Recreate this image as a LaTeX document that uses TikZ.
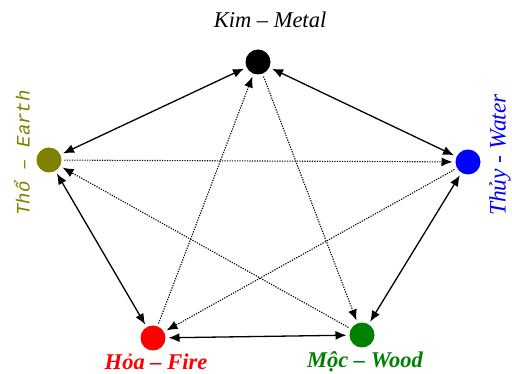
\documentclass[tikz,border=0pt]{standalone}
\usepackage{fontspec}
\setmainfont{Liberation Serif}
\newfontfamily\monofont{Liberation Mono}
\usepackage{xcolor}
\usetikzlibrary{arrows.meta}
\definecolor{earth}{RGB}{128,128,0}
\definecolor{wood}{RGB}{0,128,0}

\begin{document}
\begin{tikzpicture}[x=1pt, y=-1pt,
  elem/.style={circle, inner sep=0pt, minimum size=25pt, outer sep=3pt},
  both/.style={{Latex[length=11pt,width=9pt]}-{Latex[length=11pt,width=9pt]}, line width=1.3pt},
  ctrl/.style={-{Latex[length=11pt,width=9pt]}, dash pattern=on 1.2pt off 1.3pt, line width=1.1pt},
  lbl/.style={inner sep=0pt, font=\fontsize{22.5}{26}\selectfont\itshape}]
\useasboundingbox (0,0) rectangle (512,374);
\node[elem, fill=black] (kim) at (258,62) {};
\node[elem, fill=earth] (tho) at (49,160) {};
\node[elem, fill=blue] (thuy) at (468,162) {};
\node[elem, fill=red] (hoa) at (153,338) {};
\node[elem, fill=wood] (moc) at (362,335) {};

\node[lbl] (kimlabel) at (270,20) {Kim – Metal};
\node[lbl, text=earth, rotate=90, font=\fontsize{19}{22}\selectfont\monofont\itshape] (tholabel) at (22,153) {Thổ – Earth};
\node[lbl, text=blue, rotate=90, font=\fontsize{23.5}{27}\selectfont\itshape] (thuylabel) at (500,155) {Thủy - Water};
\node[lbl, text=red, font=\fontsize{22.5}{26}\selectfont\bfseries\itshape] (hoalabel) at (156,362) {Hỏa – Fire};
\node[lbl, text=wood, font=\fontsize{22.5}{26}\selectfont\bfseries\itshape] (moclabel) at (365,362) {Mộc – Wood};

\draw[both] (kim)--(thuy);
\draw[both] (thuy)--(moc);
\draw[both] (moc)--(hoa);
\draw[both] (hoa)--(tho);
\draw[both] (tho)--(kim);

\draw[ctrl] (kim)--(moc);
\draw[ctrl] (moc)--(tho);
\draw[ctrl] (tho)--(thuy);
\draw[ctrl] (thuy)--(hoa);
\draw[ctrl] (hoa)--(kim);
\end{tikzpicture}
\end{document}
